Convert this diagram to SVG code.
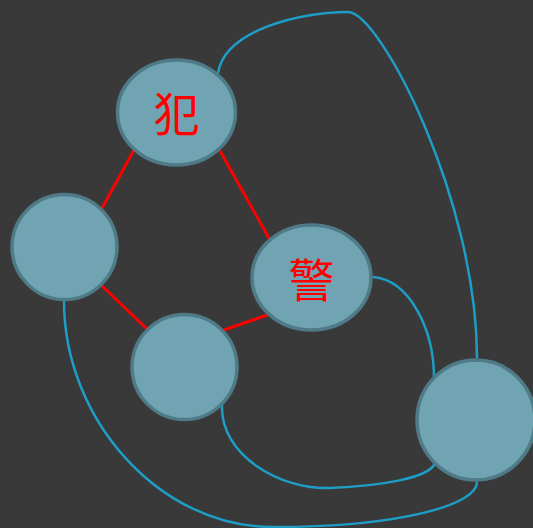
<svg xmlns="http://www.w3.org/2000/svg" width="533" height="528" viewBox="0 0 533 528">
  <style>
    .node { fill: #70a4b2; stroke: #4f7a87; stroke-width: 3.5; }
    .label { fill: #ff0000; font-family: "Noto Sans CJK SC", "Noto Sans", sans-serif; font-size: 46px; text-anchor: middle; }
    .red { stroke: #ff0000; stroke-width: 3; fill: none; }
    .blue { stroke: #1e9dc6; stroke-width: 2.5; fill: none; }
  </style>
  <rect width="533" height="528" fill="#393939"/>
  <g id="connectors">
    <line class="red" x1="134" y1="150" x2="101" y2="210"/>
    <line class="red" x1="219" y1="149" x2="270" y2="240"/>
    <line class="red" x1="101" y1="285" x2="148" y2="330"/>
    <line class="red" x1="270" y1="314" x2="221" y2="331"/>
    <path class="blue" d="M218,73 C225,30 300,12 348,12 C380,12 477,200 477,358"/>
    <path class="blue" d="M373,277 C410,280 434,330 434,378"/>
    <path class="blue" d="M222,405 C220,455 280,490 330,488 C380,486 430,478 435,463"/>
    <path class="blue" d="M64,301 C64,420 160,527 272,527 C400,527 477,505 477,482"/>
  </g>
  <g id="node-fan">
    <ellipse class="node" cx="176.5" cy="112.5" rx="59" ry="52.5"/>
    <text class="label" x="176.5" y="130.5">犯</text>
  </g>
  <g id="node-left">
    <ellipse class="node" cx="64.5" cy="247" rx="52.5" ry="52.5"/>
  </g>
  <g id="node-jing">
    <ellipse class="node" cx="311.5" cy="277.5" rx="59.5" ry="52.5"/>
    <text class="label" x="311.5" y="297">警</text>
  </g>
  <g id="node-middle">
    <ellipse class="node" cx="184.5" cy="367" rx="52.5" ry="52.5"/>
  </g>
  <g id="node-right">
    <ellipse class="node" cx="476" cy="420" rx="59" ry="60"/>
  </g>
</svg>
